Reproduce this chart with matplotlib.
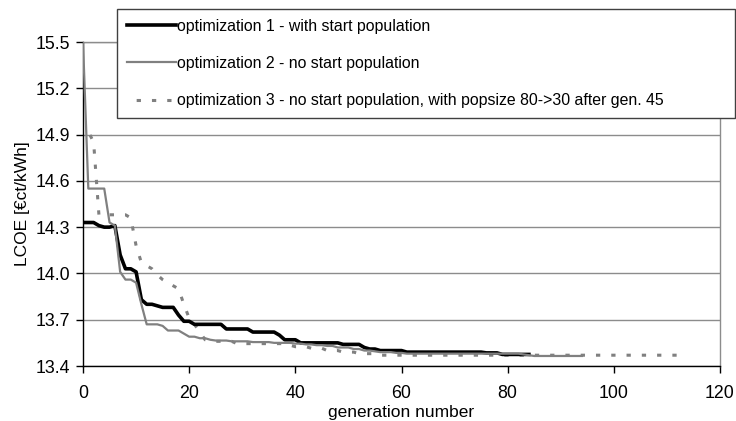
import matplotlib
matplotlib.use("Agg")
import matplotlib.pyplot as plt

plt.rcParams['font.family'] = ['Liberation Sans', 'DejaVu Sans']

# --- data ---
opt1 = [14.33, 14.33, 14.33, 14.31, 14.30, 14.30, 14.31, 14.12, 14.03, 14.03,
        14.01, 13.83, 13.80, 13.80, 13.79, 13.78, 13.78, 13.78, 13.73, 13.69,
        13.69, 13.67, 13.67, 13.67, 13.67, 13.67, 13.67, 13.64, 13.64, 13.64,
        13.64, 13.64, 13.62, 13.62, 13.62, 13.62, 13.62, 13.60, 13.57, 13.57,
        13.57, 13.55, 13.55, 13.55, 13.55, 13.55, 13.55, 13.55, 13.55, 13.54,
        13.54, 13.54, 13.54, 13.52, 13.51, 13.51, 13.50, 13.50, 13.50, 13.50,
        13.50, 13.49, 13.49, 13.49, 13.49, 13.49, 13.49, 13.49, 13.49, 13.49,
        13.49, 13.49, 13.49, 13.49, 13.49, 13.49, 13.485, 13.485, 13.485, 13.475,
        13.475, 13.475, 13.475, 13.475, 13.475]

opt2 = [15.50, 14.55, 14.55, 14.55, 14.55, 14.33, 14.31, 14.01, 13.96, 13.96,
        13.94, 13.80, 13.67, 13.67, 13.67, 13.66, 13.63, 13.63, 13.63, 13.61,
        13.59, 13.59, 13.58, 13.58, 13.57, 13.565, 13.565, 13.565, 13.56, 13.56,
        13.56, 13.56, 13.555, 13.555, 13.555, 13.555, 13.55, 13.55, 13.55, 13.55,
        13.545, 13.545, 13.54, 13.54, 13.535, 13.535, 13.53, 13.53, 13.52, 13.52,
        13.52, 13.51, 13.51, 13.50, 13.50, 13.495, 13.49, 13.49, 13.49, 13.485,
        13.485, 13.48, 13.48, 13.48, 13.48, 13.48, 13.48, 13.48, 13.48, 13.48,
        13.48, 13.48, 13.48, 13.48, 13.48, 13.48, 13.48, 13.48, 13.48, 13.48,
        13.48, 13.48, 13.48, 13.475, 13.47, 13.465, 13.465, 13.465, 13.465, 13.465,
        13.465, 13.465, 13.465, 13.465, 13.465]

opt3 = [14.92, 14.92, 14.85, 14.38, 14.38, 14.38, 14.38, 14.38, 14.38, 14.36,
        14.18, 14.07, 14.05, 14.03, 13.99, 13.96, 13.94, 13.92, 13.90, 13.80,
        13.71, 13.67, 13.62, 13.57, 13.56, 13.56, 13.56, 13.56, 13.56, 13.545,
        13.545, 13.545, 13.545, 13.545, 13.545, 13.545, 13.545, 13.545, 13.545, 13.535,
        13.525, 13.525, 13.525, 13.515, 13.515, 13.515, 13.50, 13.50, 13.50, 13.49,
        13.49, 13.49, 13.48, 13.48, 13.48, 13.48, 13.47, 13.47, 13.47, 13.47,
        13.47, 13.47, 13.47, 13.47, 13.47, 13.47, 13.47, 13.47, 13.47, 13.47,
        13.47, 13.47, 13.47, 13.47, 13.47, 13.47, 13.47, 13.47, 13.47, 13.47,
        13.47, 13.47, 13.47, 13.47, 13.47, 13.47, 13.47, 13.47, 13.47, 13.47,
        13.47, 13.47, 13.47, 13.47, 13.47, 13.47, 13.47, 13.47, 13.47, 13.47,
        13.47, 13.47, 13.47, 13.47, 13.47, 13.47, 13.47, 13.47, 13.47, 13.47,
        13.47, 13.47, 13.47]

labels = ["optimization 1 - with start population",
          "optimization 2 - no start population",
          "optimization 3 - no start population, with popsize 80->30 after gen. 45"]

xticks = [0, 20, 40, 60, 80, 100, 120]
yticks = [13.4, 13.7, 14.0, 14.3, 14.6, 14.9, 15.2, 15.5]

fig = plt.figure(figsize=(7.36, 4.21), dpi=100)
ax = fig.add_axes([83/736, 1 - 366/421, (720-83)/736, (366-42)/421])

l1, = ax.plot(range(len(opt1)), opt1, color='black', lw=2.6,
              solid_joinstyle='round', zorder=3)
l2, = ax.plot(range(len(opt2)), opt2, color='#808080', lw=1.6,
              solid_joinstyle='round', zorder=4)
l3, = ax.plot(range(len(opt3)), opt3, color='#808080', lw=2.2,
              linestyle=(2, (1.4, 3.6)), zorder=2)

ax.set_xlim(xticks[0], xticks[-1])
ax.set_ylim(yticks[0], yticks[-1])
ax.set_xticks(xticks)
ax.set_yticks(yticks)
ax.set_yticklabels([f"{v:.1f}" for v in yticks])
ax.grid(axis='y', color='#8c8c8c', lw=1.0)
ax.set_axisbelow(True)
for s in ['top', 'right']:
    ax.spines[s].set_color('#8c8c8c')
    ax.spines[s].set_linewidth(1.0)
for s in ['left', 'bottom']:
    ax.spines[s].set_color('black')
    ax.spines[s].set_linewidth(1.0)
ax.tick_params(direction='out', length=5, width=1, labelsize=12.8, colors='black')
ax.tick_params(axis='x', pad=9)
ax.tick_params(axis='y', pad=4)

ax.set_xlabel("generation number", fontsize=12.5, labelpad=2)
ax.set_ylabel("LCOE [€ct/kWh]", fontsize=12.5, labelpad=4)

leg = fig.legend([l1, l2, l3], labels,
                 bbox_to_anchor=(117/736, 1 - 119/421, (735-117)/736, (119-8)/421),
                 loc='center left', mode='expand', borderaxespad=0,
                 fontsize=11.4, frameon=True, fancybox=False,
                 handlelength=3.1, handletextpad=0.05, labelspacing=1.4,
                 borderpad=0.65)
leg.get_frame().set_edgecolor('#404040')
leg.get_frame().set_linewidth(1.0)
leg.get_frame().set_facecolor('white')
leg.get_frame().set_alpha(1)

fig.savefig("out.png", dpi=100)
